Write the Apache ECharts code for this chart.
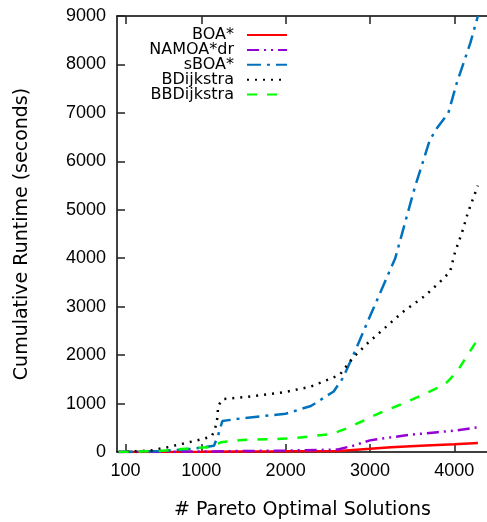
<!DOCTYPE html>
<html>
<head>
<meta charset="utf-8">
<script src="https://cdn.jsdelivr.net/npm/echarts@6/dist/echarts.min.js"></script>
<style>
html,body{margin:0;padding:0;background:#fff;}
#main{width:487px;height:522px;}
</style>
</head>
<body>
<div id="main"></div>
<script>
// ---- data ----
var seriesNames = ['BOA*', 'NAMOA*dr', 'sBOA*', 'BDijkstra', 'BBDijkstra'];
var xTickValues = [100, 1000, 2000, 3000, 4000];
var yTickValues = [0, 1000, 2000, 3000, 4000, 5000, 6000, 7000, 8000, 9000];

var boaData = [[20,0],[500,2],[1000,5],[1500,10],[2000,15],[2640,22],[3000,65],[3250,100],[3600,130],[4000,160],[4280,185]];
var namoaData = [[20,0],[1000,10],[1500,20],[2000,30],[2620,50],[2800,130],[3000,240],[3280,310],[3450,350],[3800,410],[4000,440],[4280,510]];
var sboaData = [[20,0],[500,20],[800,50],[1000,90],[1150,130],[1200,350],[1250,640],[1500,700],[2000,790],[2300,950],[2570,1250],[2680,1530],[2840,2150],[3000,2800],[3300,4000],[3530,5450],[3710,6440],[3800,6700],[3930,7000],[4030,7620],[4190,8440],[4280,9000]];
var bdijData = [[20,0],[400,30],[600,100],[800,180],[1000,260],[1120,320],[1160,450],[1190,700],[1200,950],[1250,1090],[1500,1130],[2000,1240],[2300,1350],[2640,1590],[2800,1950],[2975,2250],[3390,2890],[3650,3220],[3830,3510],[3950,3720],[4010,4130],[4090,4520],[4160,4930],[4280,5500]];
var bbdijData = [[20,0],[500,20],[890,80],[1090,100],[1150,130],[1230,200],[1490,250],[1900,270],[2130,290],[2320,330],[2550,370],[2740,500],[2915,640],[3120,810],[3320,950],[3510,1090],[3700,1240],[3890,1400],[4030,1650],[4150,1980],[4280,2330]];

var FONT = 'DejaVu Sans';
var TICKFONT = 'Liberation Sans';
var chart = echarts.init(document.getElementById('main'), null, {renderer: 'canvas'});

function mkSeries(name, data, color, dash) {
  return {
    name: name, type: 'line', data: data, symbol: 'none',
    xAxisIndex: 0, yAxisIndex: 0,
    lineStyle: {color: color, width: 2.5, type: dash},
    itemStyle: {color: color},
    emphasis: {disabled: true},
    animation: false
  };
}
function plain(v) { return String(v); }

var axisLineStyle = {lineStyle: {color: '#000', width: 1.5}};

chart.setOption({
  animation: false,
  grid: {left: 117, top: 16, width: 371, height: 436, containLabel: false, outerBoundsMode: 'none'},
  legend: {
    orient: 'vertical',
    right: 194, top: 22,
    align: 'right',
    itemWidth: 40, itemHeight: 14, itemGap: -1.1,
    itemStyle: {opacity: 0},
    textStyle: {fontFamily: FONT, fontSize: 16, color: '#000', lineHeight: 14, padding: [0, 8, 0, 0]},
    data: seriesNames
  },
  xAxis: [{
    type: 'value', min: 0, max: 4400, position: 'bottom',
    name: '# Pareto Optimal Solutions', nameLocation: 'middle', nameGap: 49,
    nameTextStyle: {fontFamily: FONT, fontSize: 19, color: '#000'},
    axisLine: axisLineStyle,
    axisTick: {inside: true, length: 8, customValues: xTickValues, lineStyle: {color: '#222', width: 1.5}},
    axisLabel: {customValues: xTickValues, formatter: plain, fontFamily: TICKFONT, fontSize: 18, color: '#000', margin: 10},
    splitLine: {show: false}
  }, {
    type: 'value', min: 0, max: 4400, position: 'top',
    axisLine: axisLineStyle,
    axisTick: {inside: true, length: 8, customValues: xTickValues, lineStyle: {color: '#222', width: 1.5}},
    axisLabel: {show: false},
    splitLine: {show: false}
  }],
  yAxis: [{
    type: 'value', min: 0, max: 9000, interval: 1000, position: 'left',
    name: 'Cumulative Runtime (seconds)', nameLocation: 'middle', nameGap: 85,
    nameTextStyle: {fontFamily: FONT, fontSize: 19, color: '#000'},
    axisLine: {show: true, lineStyle: {color: '#000', width: 1.5}},
    axisTick: {show: true, inside: true, length: 8, lineStyle: {color: '#222', width: 1.5}},
    axisLabel: {formatter: plain, fontFamily: TICKFONT, fontSize: 18, color: '#000', margin: 11},
    splitLine: {show: false}
  }],
  series: [
    mkSeries(seriesNames[0], boaData, '#ff0000', 'solid'),
    mkSeries(seriesNames[1], namoaData, '#9400d3', [12, 5, 2, 5, 2, 5]),
    mkSeries(seriesNames[2], sboaData, '#0072bd', [14, 6, 3, 6]),
    mkSeries(seriesNames[3], bdijData, '#000000', [2, 6]),
    mkSeries(seriesNames[4], bbdijData, '#00ff00', [10, 10])
  ]
});
</script>
</body>
</html>
